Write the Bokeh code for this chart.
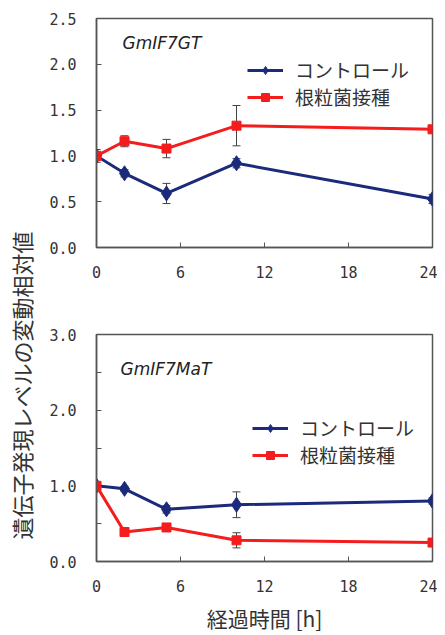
import math
from bokeh.plotting import figure
from bokeh.models import (ColumnDataSource, Whisker, TeeHead, Legend, LegendItem,
                          Label, FixedTicker, Range1d)
from bokeh.layouts import row, column
from bokeh.core.properties import value
from bokeh.embed import file_html
from bokeh.resources import INLINE

# ---- data ----
hours = [0, 2, 5, 10, 24]
gt_control = [1.00, 0.81, 0.59, 0.92, 0.53]
gt_control_err = [0.07, 0.04, 0.11, 0.05, 0.05]
gt_rhizo = [1.00, 1.16, 1.08, 1.33, 1.29]
gt_rhizo_err = [0.03, 0.06, 0.10, 0.22, 0.03]
mat_control = [1.00, 0.96, 0.69, 0.75, 0.80]
mat_control_err = [0.02, 0.03, 0.05, 0.17, 0.04]
mat_rhizo = [1.00, 0.39, 0.45, 0.28, 0.25]
mat_rhizo_err = [0.02, 0.02, 0.04, 0.10, 0.03]

series_names = ["コントロール", "根粒菌接種"]
x_ticks = [0, 6, 12, 18, 24]
gt_y_ticks = [0.0, 0.5, 1.0, 1.5, 2.0, 2.5]
mat_y_ticks = [0.0, 0.5, 1.0, 1.5, 2.0, 2.5, 3.0]
mat_y_labels = ["0.0", "", "1.0", "", "2.0", "", "3.0"]
gene_titles = ["GmIF7GT", "GmIF7MaT"]
y_title = "遺伝子発現レベルの変動相対値"
x_title = "経過時間 [h]"

BLUE = "#1c2a7c"
RED = "#f41c1c"
JP = "Noto Sans CJK JP"
TICKFONT = "DejaVu Sans Mono"
AX = "#555555"


def make_panel(width, height, ymax, yticks, ylabels, ctrl, ctrl_err, rhz, rhz_err,
               title, title_xy, legend_xy, legend_spacing,
               border_top, border_bottom, border_right, xlabel=None):
    p = figure(width=width, height=height, x_range=Range1d(0, 24),
               y_range=Range1d(0, ymax), output_backend="svg",
               toolbar_location=None, min_border_left=58,
               min_border_top=border_top, min_border_bottom=border_bottom,
               min_border_right=border_right)
    p.xgrid.visible = False
    p.ygrid.visible = False
    p.outline_line_color = AX
    p.outline_line_width = 1.5
    p.background_fill_color = "white"
    p.border_fill_color = "white"

    for ax in (p.xaxis[0], p.yaxis[0]):
        ax.axis_line_color = AX
        ax.axis_line_width = 1.5
        ax.major_tick_in = 5
        ax.major_tick_out = 0
        ax.minor_tick_line_color = None
        ax.major_tick_line_color = AX
        ax.major_label_text_font = TICKFONT
        ax.major_label_text_font_size = "15px"
        ax.major_label_text_color = "#333333"
    p.xaxis.ticker = FixedTicker(ticks=x_ticks)
    p.xaxis.major_label_standoff = 18
    p.yaxis.ticker = FixedTicker(ticks=yticks)
    p.yaxis.major_label_overrides = {t: l for t, l in zip(yticks, ylabels)}
    p.yaxis.major_label_standoff = 20
    if xlabel:
        p.xaxis.axis_label = xlabel
        p.xaxis.axis_label_text_font = JP
        p.xaxis.axis_label_text_font_size = "21px"
        p.xaxis.axis_label_text_font_style = "normal"
        p.xaxis.axis_label_text_color = "#333333"
        p.xaxis.axis_label_standoff = 8

    items = []
    for vals, errs, color, marker, name in [
        (ctrl, ctrl_err, BLUE, "diamond", series_names[0]),
        (rhz, rhz_err, RED, "square", series_names[1]),
    ]:
        src = ColumnDataSource(dict(
            x=hours, y=vals,
            upper=[v + e for v, e in zip(vals, errs)],
            lower=[v - e for v, e in zip(vals, errs)]))
        w = Whisker(base="x", upper="upper", lower="lower", source=src,
                    line_color="#444444", line_width=1,
                    upper_head=TeeHead(size=8, line_color="#444444", line_width=1),
                    lower_head=TeeHead(size=8, line_color="#444444", line_width=1))
        p.add_layout(w)
        r1 = p.line("x", "y", source=src, line_color=color, line_width=3)
        size = 15 if marker == "diamond" else 9
        r2 = p.scatter("x", "y", source=src, marker=marker, size=size,
                       fill_color=color, line_color=color)
        items.append(LegendItem(label=name, renderers=[r1, r2]))

    leg = Legend(items=items, location=legend_xy, padding=0, margin=0,
                 spacing=legend_spacing, glyph_width=36, glyph_height=20,
                 label_standoff=12, label_text_font=JP,
                 label_text_font_size="19px", label_text_color="#333333",
                 border_line_color=None, background_fill_alpha=0)
    p.add_layout(leg, "center")

    p.add_layout(Label(x=title_xy[0], y=title_xy[1], x_units="screen",
                       y_units="screen", text=title, text_font="DejaVu Sans",
                       text_font_style="italic", text_font_size="17px",
                       text_color="#222222", text_baseline="middle"))
    return p


top = make_panel(399, 300, 2.5, gt_y_ticks, ["%.1f" % t for t in gt_y_ticks],
                 gt_control, gt_control_err, gt_rhizo, gt_rhizo_err,
                 gene_titles[0], (26, 205), (151, 137), -2,
                 border_top=18, border_bottom=53, border_right=5)
bottom = make_panel(399, 335, 3.0, mat_y_ticks, mat_y_labels,
                    mat_control, mat_control_err, mat_rhizo, mat_rhizo_err,
                    gene_titles[1], (24, 193), (156, 93), 0,
                    border_top=34, border_bottom=73, border_right=1,
                    xlabel=x_title)

lab = figure(width=38, height=635, x_range=Range1d(0, 38), y_range=Range1d(0, 635),
             output_backend="svg", toolbar_location=None,
             min_border_left=0, min_border_right=0, min_border_top=0,
             min_border_bottom=0)
lab.axis.visible = False
lab.grid.visible = False
lab.outline_line_color = None
lab.text(x=[20], y=[250], text=[y_title], angle=math.pi / 2,
         text_align="center", text_baseline="middle",
         text_font=value(JP), text_font_size="22px", text_color="#333333")

layout = row(lab, column(top, bottom))
open("out.html", "w").write(file_html(layout, INLINE))
